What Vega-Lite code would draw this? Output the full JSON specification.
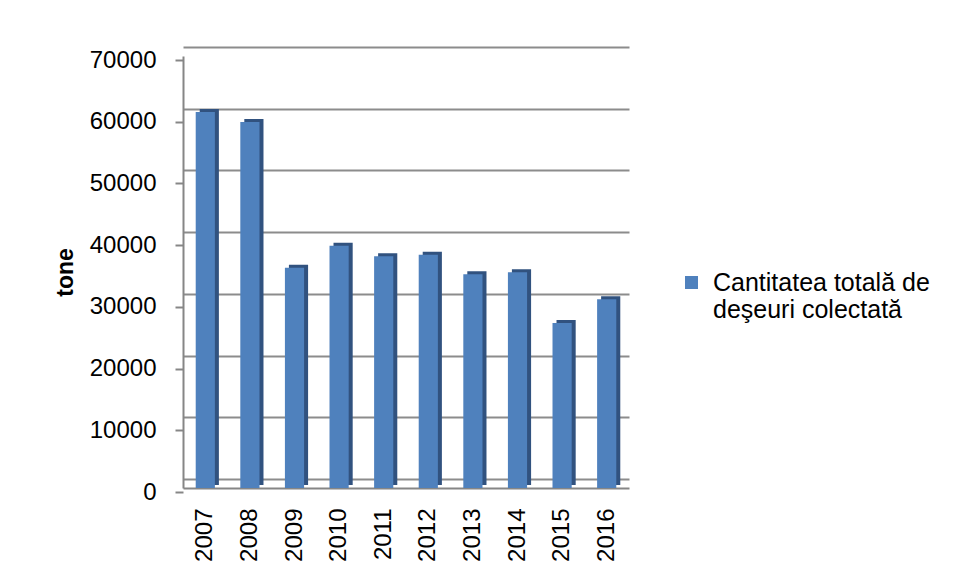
{
  "$schema": "https://vega.github.io/schema/vega-lite/v6.json",
  "autosize": {"type": "none"},
  "padding": {"left": 183, "top": 56, "right": 326, "bottom": 91},
  "width": 446,
  "height": 432,
  "background": "white",
  "config": {
    "view": {"stroke": null},
    "font": "Liberation Sans"
  },
  "data": {
    "values": [
      {"year": "2007", "value": 60940, "series": "Cantitatea totală de deşeuri colectată"},
      {"year": "2008", "value": 59320, "series": "Cantitatea totală de deşeuri colectată"},
      {"year": "2009", "value": 35700, "series": "Cantitatea totală de deşeuri colectată"},
      {"year": "2010", "value": 39270, "series": "Cantitatea totală de deşeuri colectată"},
      {"year": "2011", "value": 37550, "series": "Cantitatea totală de deşeuri colectată"},
      {"year": "2012", "value": 37810, "series": "Cantitatea totală de deşeuri colectată"},
      {"year": "2013", "value": 34640, "series": "Cantitatea totală de deşeuri colectată"},
      {"year": "2014", "value": 34960, "series": "Cantitatea totală de deşeuri colectată"},
      {"year": "2015", "value": 26740, "series": "Cantitatea totală de deşeuri colectată"},
      {"year": "2016", "value": 30580, "series": "Cantitatea totală de deşeuri colectată"}
    ]
  },
  "resolve": {"scale": {"y": "shared"}, "axis": {"y": "independent"}},
  "layer": [
    {
      "mark": {"type": "bar", "color": "#31527f", "xOffset": 4, "yOffset": -3},
      "encoding": {
        "x": {
          "field": "year", "type": "ordinal",
          "scale": {"paddingInner": 0.57, "paddingOuter": 0.285},
          "axis": {
            "title": null,
            "labelAngle": -90,
            "labelAlign": "right",
            "labelBaseline": "middle",
            "labelFontSize": 24,
            "labelColor": "#000000",
            "labelPadding": 20,
            "ticks": false,
            "domainColor": "#868686",
            "domainWidth": 2
          }
        },
        "y": {
          "field": "value", "type": "quantitative",
          "scale": {"domain": [0, 70000], "nice": false},
          "axis": {
            "orient": "left",
            "values": [0, 10000, 20000, 30000, 40000, 50000, 60000, 70000],
            "grid": true, "gridColor": "#8c8c8c", "gridWidth": 2, "gridOpacity": 1,
            "tickOffset": -9,
            "labels": false, "ticks": false, "domain": false, "title": null
          }
        }
      }
    },
    {
      "mark": {"type": "bar"},
      "encoding": {
        "x": {
          "field": "year", "type": "ordinal",
          "scale": {"paddingInner": 0.57, "paddingOuter": 0.285}
        },
        "y": {
          "field": "value", "type": "quantitative",
          "scale": {"domain": [0, 70000], "nice": false},
          "axis": {
            "orient": "left",
            "values": [0, 10000, 20000, 30000, 40000, 50000, 60000, 70000],
            "format": "d",
            "grid": false,
            "tickOffset": 4,
            "tickSize": 8,
            "tickColor": "#868686",
            "tickWidth": 2,
            "domainColor": "#868686",
            "domainWidth": 2,
            "labelFontSize": 24,
            "labelColor": "#000000",
            "labelPadding": 19,
            "title": "tone",
            "titleFontSize": 23,
            "titleFontWeight": "bold",
            "titleColor": "#000000",
            "titlePadding": 12
          }
        },
        "color": {
          "field": "series", "type": "nominal",
          "scale": {"range": ["#4f81bd"]},
          "legend": {
            "title": null,
            "orient": "none",
            "legendX": 496,
            "legendY": 214,
            "symbolType": "square",
            "symbolSize": 169,
            "symbolStrokeWidth": 0,
            "symbolOpacity": 1,
            "labelFontSize": 25,
            "labelColor": "#000000",
            "labelLimit": 400,
            "labelOffset": 9,
            "labelExpr": "['Cantitatea totală de', 'deşeuri colectată']"
          }
        }
      }
    }
  ]
}
